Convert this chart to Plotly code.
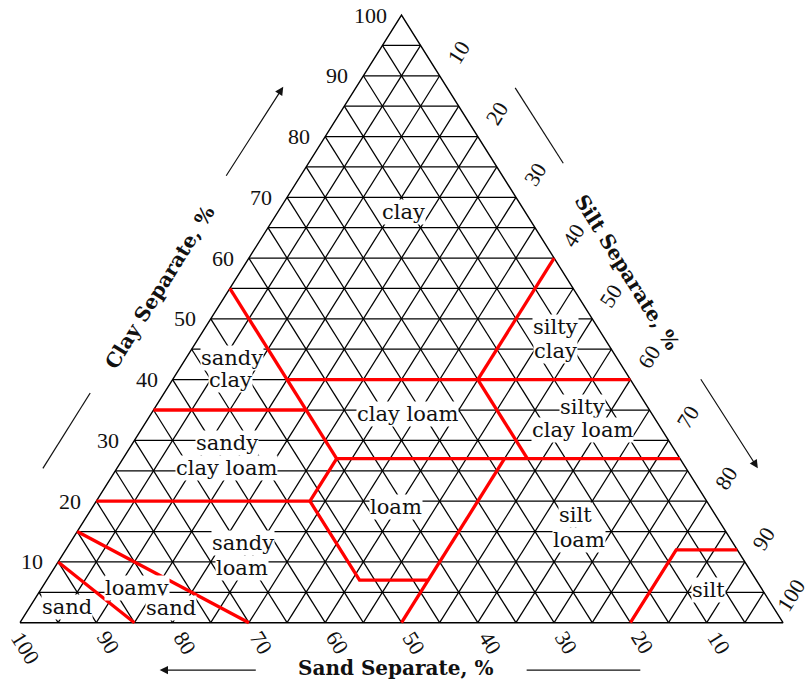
import plotly.graph_objects as go

# ---- data -------------------------------------------------------------
# Grid spacing (percent) and labelled ticks on each side
grid_steps = list(range(5, 100, 5))
tick_values = [10, 20, 30, 40, 50, 60, 70, 80, 90, 100]

# Texture class boundaries: clay % and silt % along each polyline
# (sand % = 100 - clay - silt)
boundary_clay = [
    [10, 0],            # sand | loamy sand
    [15, 0],            # loamy sand | sandy loam
    [20, 20, 27, 27],   # clay 20, silt 28, clay 27
    [20, 7, 7],         # sand 52, clay 7
    [0, 27],            # silt 50
    [27, 35, 55],       # sand 45
    [35, 35],           # clay 35
    [40, 40],           # clay 40
    [40, 60],           # silt 40
    [40, 27],           # sand 20
    [0, 12, 12],        # silt 80, clay 12
]
boundary_silt = [
    [0, 15],
    [0, 30],
    [0, 28, 28, 73],
    [28, 41, 50],
    [50, 50],
    [28, 20, 0],
    [0, 20],
    [15, 60],
    [40, 40],
    [40, 53],
    [80, 80, 88],
]

# Class names (one entry per text line) with their clay % / silt % position
class_text = ["clay", "silty", "clay", "silty", "clay loam", "sandy", "clay",
              "clay loam", "sandy", "clay loam", "loam", "silt", "loam",
              "sandy", "loam", "loamy", "sand", "sand", "silt"]
class_clay = [67.6, 48.7, 44.7, 35.5, 31.7, 43.6, 39.9,
              34.3, 29.6, 25.5, 19.0, 17.7, 13.6,
              13.1, 9.0, 5.7, 2.4, 2.6, 5.4]
class_silt = [16.4, 45.8, 47.8, 56.0, 57.9, 6.0, 7.7,
              33.6, 12.3, 14.3, 39.8, 63.9, 66.5,
              22.7, 24.6, 12.5, 18.6, 4.9, 87.5]

axis_titles = ["Clay Separate, %", "Silt Separate, %", "Sand Separate, %"]


# ---- helpers ------------------------------------------------------------
def to_xy(clay, silt):
    """Ternary composition -> plane position (percent of base / height)."""
    return silt + clay / 2.0, clay


def seg_lists(polys_c, polys_s):
    xs, ys = [], []
    for cs, ss in zip(polys_c, polys_s):
        for c, s in zip(cs, ss):
            x, y = to_xy(c, s)
            xs.append(x)
            ys.append(y)
        xs.append(None)
        ys.append(None)
    return xs, ys


# grid lines of constant clay, sand and silt
grid_c, grid_s = [], []
for k in grid_steps:
    grid_c += [[k, k], [100 - k, 0], [100 - k, 0]]
    grid_s += [[0, 100 - k], [0, 100 - k], [k, k]]
gx, gy = seg_lists(grid_c, grid_s)

# triangle outline: sand corner -> clay apex -> silt corner -> back
ox, oy = seg_lists([[0, 100, 0, 0]], [[0, 0, 100, 0]])

bx, by = seg_lists(boundary_clay, boundary_silt)

fig = go.Figure()
fig.add_trace(go.Scatter(x=gx, y=gy, mode="lines",
                         line=dict(color="#000000", width=1.25),
                         hoverinfo="skip"))
fig.add_trace(go.Scatter(x=ox, y=oy, mode="lines",
                         line=dict(color="#000000", width=1.4),
                         hoverinfo="skip"))
fig.add_trace(go.Scatter(x=bx, y=by, mode="lines",
                         line=dict(color="#ff0000", width=3.3),
                         hoverinfo="skip"))

annotations = []
num_font = dict(family="Liberation Serif, Times New Roman, serif",
                size=22, color="#111")
word_font = dict(family="DejaVu Serif, serif", size=21, color="#111")
title_font = dict(family="DejaVu Serif, serif", size=20, color="#111")

# x / y percent per pixel of the plot frame
PX = 100 / 763.0
PY = 100 / 607.7

for v in tick_values:
    # clay ticks: left edge, right-aligned text
    x, y = to_xy(v, 0)
    annotations.append(dict(x=x - 13 * PX, y=y, text=str(v), showarrow=False,
                            xanchor="right", yanchor="middle", font=num_font))
    # silt ticks: right edge
    x, y = to_xy(100 - v, v)
    dx, dy = (19, 23) if v < 100 else (8, 27)
    annotations.append(dict(x=x + dx * PX, y=y + dy * PY, text=str(v),
                            showarrow=False, textangle=-58,
                            xanchor="center", yanchor="middle", font=num_font))
    # sand ticks: base
    x, y = to_xy(0, 100 - v)
    dx, dy = (12, 20) if v < 100 else (5, 25)
    annotations.append(dict(x=x + dx * PX, y=y - dy * PY, text=str(v),
                            showarrow=False, textangle=58,
                            xanchor="center", yanchor="middle", font=num_font))

for t, c, s in zip(class_text, class_clay, class_silt):
    x, y = to_xy(c, s)
    annotations.append(dict(x=x, y=y, text=t, showarrow=False,
                            bgcolor="white", borderpad=0,
                            xanchor="center", yanchor="middle", font=word_font))

# axis titles
annotations.append(dict(x=18.35, y=55.2, text="<b>%s</b>" % axis_titles[0],
                        showarrow=False, textangle=-58, font=title_font))
annotations.append(dict(x=79.55, y=57.7, text="<b>%s</b>" % axis_titles[1],
                        showarrow=False, textangle=58, font=title_font))
annotations.append(dict(x=49.2, y=-7.5, text="<b>%s</b>" % axis_titles[2],
                        showarrow=False, font=title_font))

# direction arrows beside each side
for tail, tip in [((26.9, 73.3), (34.5, 88.2)),
                  ((89.1, 40.3), (96.7, 25.4)),
                  ((31.1, -7.8), (18.3, -7.8))]:
    annotations.append(dict(x=tip[0], y=tip[1], ax=tail[0], ay=tail[1],
                            xref="x", yref="y", axref="x", ayref="y",
                            text="", showarrow=True, arrowhead=2,
                            arrowsize=1.4, arrowwidth=1.2, arrowcolor="#111"))

shapes = []
for p0, p1 in [((3.0, 25.4), (9.2, 37.8)),
               ((64.9, 88.0), (71.2, 75.6)),
               ((66.4, -7.8), (81.3, -7.8))]:
    shapes.append(dict(type="line", x0=p0[0], y0=p0[1], x1=p1[0], y1=p1[1],
                       xref="x", yref="y", line=dict(color="#111", width=1.2)))

fig.update_layout(
    width=812, height=680,
    margin=dict(l=0, r=0, t=0, b=0),
    paper_bgcolor="white", plot_bgcolor="white",
    showlegend=False,
    xaxis=dict(range=[-2.621, 103.80], visible=False, fixedrange=True),
    yaxis=dict(range=[-9.429, 102.47], visible=False, fixedrange=True),
    annotations=annotations,
    shapes=shapes,
)

fig.write_html("out.html")
